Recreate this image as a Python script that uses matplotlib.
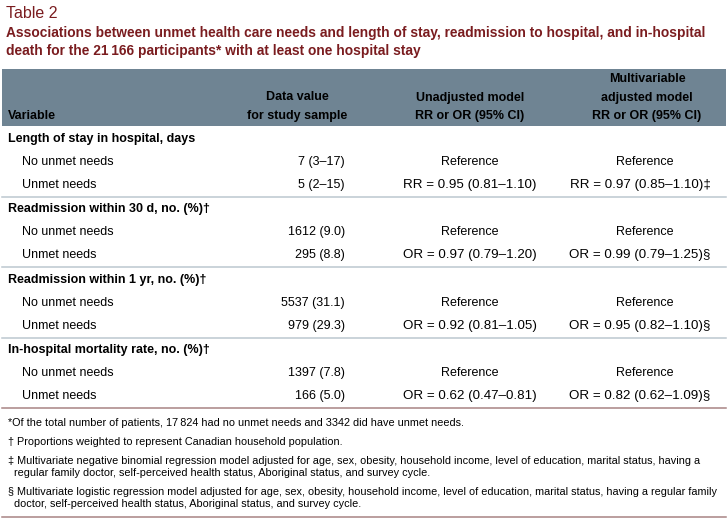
import matplotlib
matplotlib.use("Agg")
import matplotlib.pyplot as plt
from matplotlib import font_manager
from matplotlib.patches import Rectangle

# pick a narrow face if one is around, otherwise plain Liberation Sans
installed = {f.name for f in font_manager.fontManager.ttflist}
main_font = "Liberation Sans Narrow" if "Liberation Sans Narrow" in installed else "Liberation Sans"
plt.rcParams["font.family"] = [main_font, "DejaVu Sans"]

table_label = "Table 2"
title_lines = ["Associations between unmet health care needs and length of stay, readmission to hospital, and in-hospital",
               "death for the 21\u2009166 participants* with at least one hospital stay"]

col_headers = [["Variable"],
               ["Data value", "for study sample"],
               ["Unadjusted model", "RR or OR (95% CI)"],
               ["Multivariable", "adjusted model", "RR or OR (95% CI)"]]

sections = ["Length of stay in hospital, days",
            "Readmission within 30 d, no. (%)\u2020",
            "Readmission within 1 yr, no. (%)\u2020",
            "In-hospital mortality rate, no. (%)\u2020"]
groups = ["No unmet needs", "Unmet needs"]

data_values = [["7 (3\u201317)", "5 (2\u201315)"],
               ["1612 (9.0)", "295 (8.8)"],
               ["5537 (31.1)", "979 (29.3)"],
               ["1397 (7.8)", "166 (5.0)"]]

measure = ["RR", "OR", "OR", "OR"]
unadj_est = [0.95, 0.97, 0.92, 0.62]
unadj_ci = [(0.81, 1.10), (0.79, 1.20), (0.81, 1.05), (0.47, 0.81)]
multi_est = [0.97, 0.99, 0.95, 0.82]
multi_ci = [(0.85, 1.10), (0.79, 1.25), (0.82, 1.10), (0.62, 1.09)]
multi_mark = ["\u2021", "\u00a7", "\u00a7", "\u00a7"]

footnotes = [
    ["*Of the total number of patients, 17\u2009824 had no unmet needs and 3342 did have unmet needs."],
    ["\u2020 Proportions weighted to represent Canadian household population."],
    ["\u2021 Multivariate negative binomial regression model adjusted for age, sex, obesity, household income, level of education, marital status, having a",
     "  regular family doctor, self-perceived health status, Aboriginal status, and survey cycle."],
    ["\u00a7 Multivariate logistic regression model adjusted for age, sex, obesity, household income, level of education, marital status, having a regular family",
     "  doctor, self-perceived health status, Aboriginal status, and survey cycle."],
]

maroon = "#7a1c1f"
header_bg = "#6f8493"
rule_light = "#bcc7cf"
rule_rose = "#a88484"


def ratio_text(m, est, ci):
    return f"{m} = {est:.2f} ({ci[0]:.2f}\u2013{ci[1]:.2f})"


fig = plt.figure(figsize=(7.28, 5.26), dpi=100)
ax = fig.add_axes([0, 0, 1, 1])
ax.set_xlim(0, 728)
ax.set_ylim(526, 0)
ax.axis("off")

ax.text(6, 14, table_label, fontsize=11.5, color=maroon, va="center")
for k, line in enumerate(title_lines):
    ax.text(6, 33 + 18 * k, line, fontsize=9.9, color=maroon, weight="bold", va="center")

# header block
ax.add_patch(Rectangle((2, 69), 724, 57, color=header_bg, lw=0))
col_x = [8, 297, 470, 647]
for c, lines in enumerate(col_headers):
    for k, line in enumerate(lines):
        yy = 116 - 18.5 * (len(lines) - 1 - k)
        ax.text(col_x[c], yy, line, fontsize=9, weight="bold", va="center",
                ha="left" if c == 0 else "center")

y = 139
for i, sec in enumerate(sections):
    ax.text(8, y, sec, fontsize=9, weight="bold", va="center")
    for j, grp in enumerate(groups):
        ry = y + 23 * (j + 1)
        ax.text(22, ry, grp, fontsize=9, va="center")
        ax.text(345, ry, data_values[i][j], fontsize=9, va="center", ha="right")
        if j == 0:
            ax.text(470, ry, "Reference", fontsize=9, va="center", ha="center")
            ax.text(645, ry, "Reference", fontsize=9, va="center", ha="center")
        else:
            ax.text(470, ry, ratio_text(measure[i], unadj_est[i], unadj_ci[i]),
                    fontsize=9.6, va="center", ha="center")
            ax.text(640, ry, ratio_text(measure[i], multi_est[i], multi_ci[i]) + multi_mark[i],
                    fontsize=9.6, va="center", ha="center")
    line_y = y + 58
    last = i == len(sections) - 1
    ax.plot([2, 726], [line_y, line_y], color=rule_rose if last else rule_light, lw=1.1)
    y += 70.3

fy = [[423], [442], [461, 473], [492, 504]]
for lines, ys in zip(footnotes, fy):
    for line, yy in zip(lines, ys):
        ax.text(8, yy, line, fontsize=7.8, va="center")
ax.plot([2, 726], [517, 517], color=rule_rose, lw=1.1)

fig.savefig("out.png", dpi=100)
